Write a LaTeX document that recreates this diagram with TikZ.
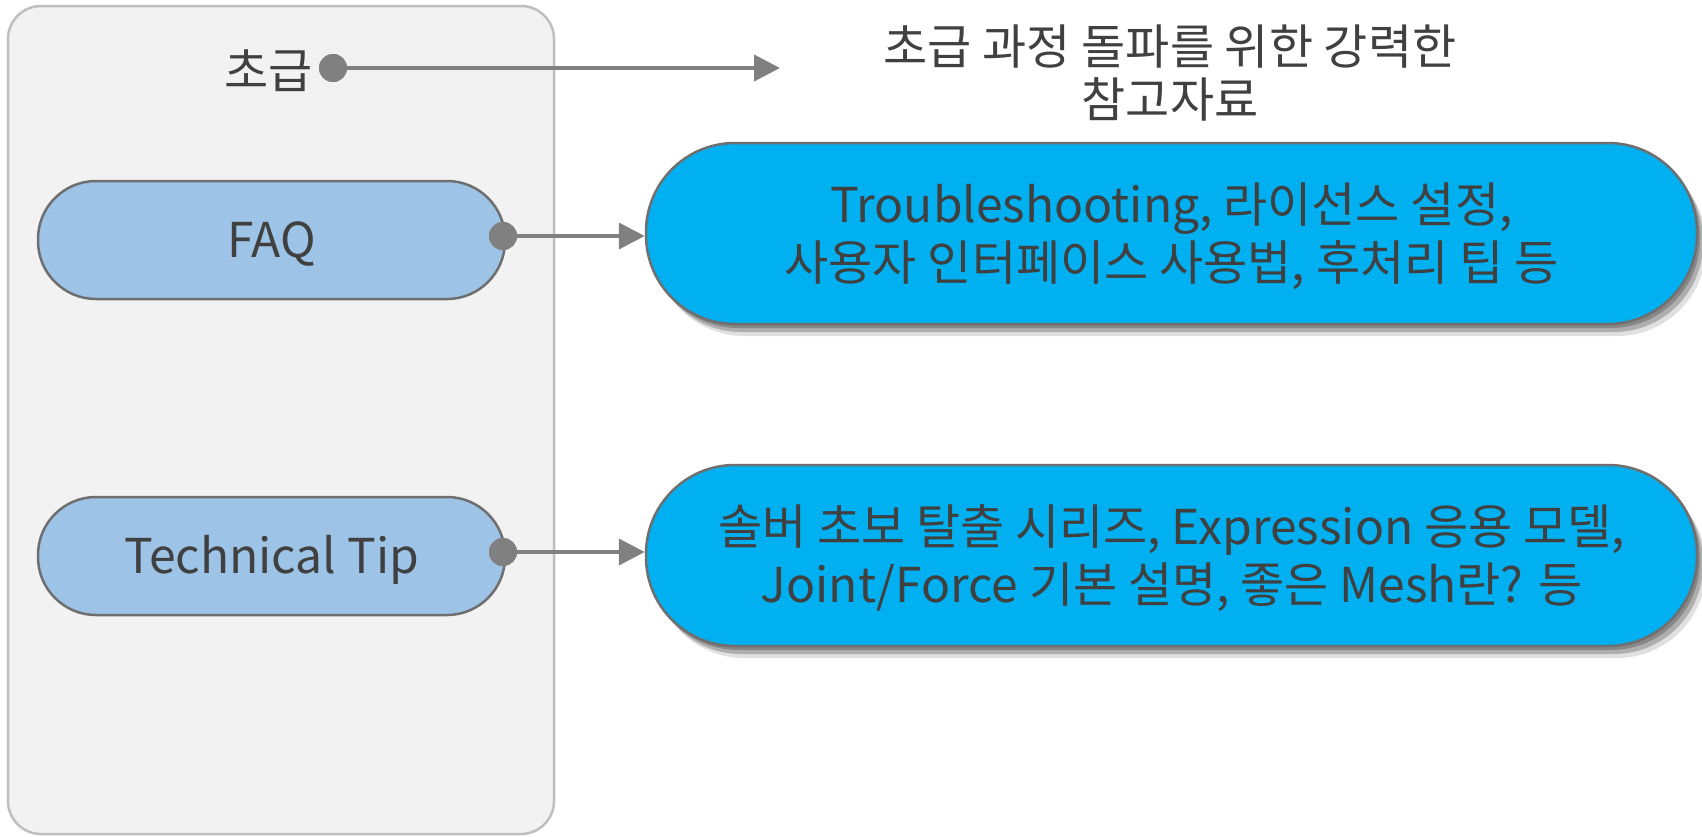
\documentclass[tikz,border=0pt]{standalone}
\usepackage{fontspec}
\setmainfont{Noto Sans CJK KR}
\usetikzlibrary{arrows.meta,shadows}
\definecolor{panelfill}{HTML}{F2F2F2}
\definecolor{paneldraw}{HTML}{BFBFBF}
\definecolor{lightblue}{HTML}{9DC3E6}
\definecolor{cyanbox}{HTML}{00B0F0}
\definecolor{edgegray}{HTML}{6F6F6F}
\definecolor{conn}{HTML}{808080}
\definecolor{txt}{HTML}{404040}
\newcommand{\boxlines}[1]{\raisebox{-6pt}[\height][\depth]{\begin{tabular}{@{}c@{}}#1\end{tabular}}}
\begin{document}
\begin{tikzpicture}[x=1pt,y=-1pt,
  every node/.style={text=txt},
  panel/.style={fill=panelfill,draw=paneldraw,line width=2.5pt,rounded corners=33pt},
  catbox/.style={rectangle,fill=lightblue,draw=edgegray,line width=2.5pt,rounded corners=58pt,
    minimum width=467pt,minimum height=118pt,inner sep=0pt,font=\fontsize{48}{58}\selectfont},
  descbox/.style={rectangle,fill=cyanbox,draw=edgegray,line width=2.5pt,rounded corners=89pt,
    minimum width=1051pt,minimum height=181pt,inner sep=0pt,
    font=\fontsize{48}{58}\selectfont,
    drop shadow={shadow xshift=9pt,shadow yshift=-12pt,fill=black,opacity=.12},
    drop shadow={shadow xshift=6pt,shadow yshift=-8pt,fill=black,opacity=.22},
    drop shadow={shadow xshift=3pt,shadow yshift=-4pt,fill=black,opacity=.22}},
  dotnode/.style={circle,fill=conn,minimum size=28pt,inner sep=0pt},
  conn/.style={draw=conn,line width=4pt,-{Triangle[length=26pt,width=26pt]}},
  lbl/.style={font=\fontsize{48}{53}\selectfont,align=center}
]
\useasboundingbox (0,0) rectangle (1702,836);
\fill[white] (0,0) rectangle (1702,836);
\draw[panel] (8,6) rectangle (554,834);

\node[lbl,anchor=east] (chogeup) at (316,71) {초급};
\node[lbl] (title) at (1170,73) {초급 과정 돌파를 위한 강력한\\참고자료};
\coordinate (t0) at (780,68);

\node[catbox] (faq) at (271.5,240) {\boxlines{FAQ}};
\node[catbox] (tech) at (271.5,556) {\boxlines{Technical Tip}};

\node[descbox] (box1) at (1171.5,233.5) {\boxlines{Troubleshooting, 라이선스 설정,\\사용자 인터페이스 사용법, 후처리 팁 등}};
\node[descbox] (box2) at (1171.5,555.5) {\boxlines{솔버 초보 탈출 시리즈, Expression 응용 모델,\\Joint/Force 기본 설명, 좋은 Mesh란? 등}};

\node[dotnode] (d0) at (333,68) {};
\node[dotnode] (d1) at (503,236) {};
\node[dotnode] (d2) at (503,552) {};

\draw[conn] (d0) -- (t0);
\draw[conn] (d1) -- (d1 -| box1.west);
\draw[conn] (d2) -- (d2 -| box2.west);
\node[dotnode] at (d0) {};
\node[dotnode] at (d1) {};
\node[dotnode] at (d2) {};
\end{tikzpicture}
\end{document}
